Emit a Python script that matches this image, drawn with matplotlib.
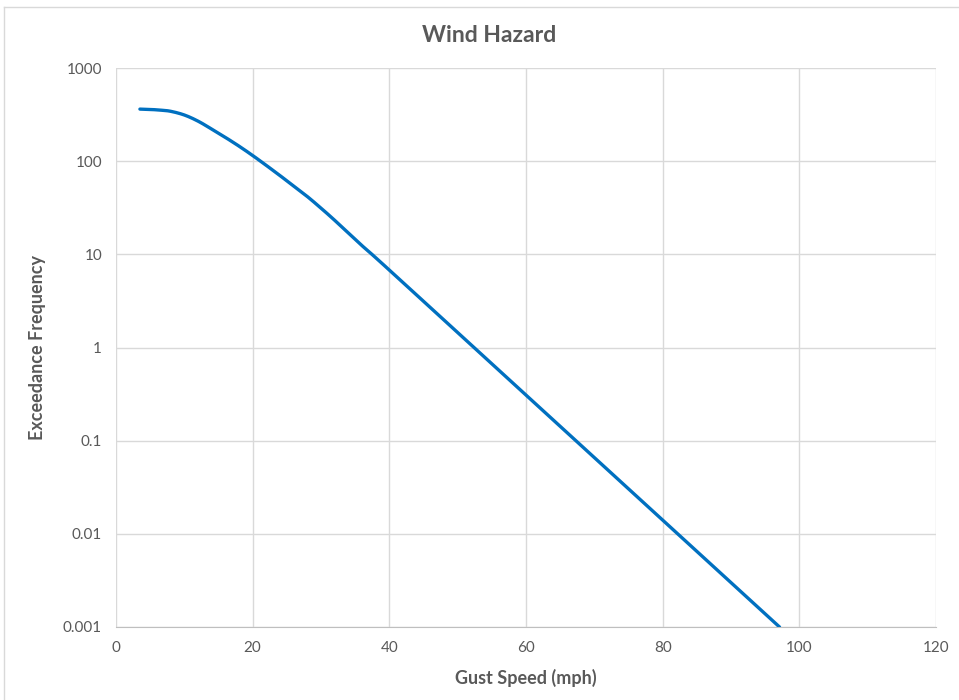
import matplotlib
matplotlib.use("Agg")
import matplotlib.pyplot as plt
from matplotlib.lines import Line2D
import numpy as np

# Data
gust_speed = [3.5, 5, 6.5, 8, 10, 12, 14, 16, 18, 20, 22, 24, 26, 28, 30, 32, 36, 40, 60, 80, 97.1]
exceedance = [362, 359, 353, 343, 313, 269, 221, 180, 145, 115, 90, 70, 54, 41.7, 31.3,
              23.2, 12.4, 6.78, 0.308, 0.014, 0.001]

x_ticks = [0, 20, 40, 60, 80, 100, 120]
y_ticks = [0.001, 0.01, 0.1, 1, 10, 100, 1000]
y_tick_labels = ["0.001", "0.01", "0.1", "1", "10", "100", "1000"]

plt.rcParams['font.family'] = ['Lato', 'DejaVu Sans']
text_color = "#595959"

fig = plt.figure(figsize=(9.59, 7.0), dpi=100)
ax = fig.add_axes([116/959, 1 - 627/700, (936 - 116)/959, (627 - 68)/700])

# smooth (Catmull-Rom) in log space
xs = np.array(gust_speed, dtype=float)
ly = np.log10(exceedance)
px, py = [], []
for i in range(len(xs) - 1):
    i0, i3 = max(i - 1, 0), min(i + 2, len(xs) - 1)
    p0, p1, p2, p3 = [np.array([xs[k], ly[k]]) for k in (i0, i, i + 1, i3)]
    t = np.linspace(0, 1, 30, endpoint=False)[:, None]
    seg = 0.5 * ((2 * p1) + (-p0 + p2) * t + (2 * p0 - 5 * p1 + 4 * p2 - p3) * t**2
                 + (-p0 + 3 * p1 - 3 * p2 + p3) * t**3)
    px.extend(seg[:, 0]); py.extend(seg[:, 1])
px.append(xs[-1]); py.append(ly[-1])
ax.plot(px, 10 ** np.array(py), color="#0070C0", lw=2.4, solid_capstyle="round", zorder=3)

ax.set_yscale("log")
ax.set_xlim(0, 120)
ax.set_ylim(0.001, 1000)
ax.set_xticks(x_ticks)
ax.set_yticks(y_ticks)
ax.set_yticklabels(y_tick_labels)
ax.minorticks_off()
ax.grid(True, color="#d9d9d9", lw=1)
ax.set_axisbelow(True)
for s in ["top", "right", "left"]:
    ax.spines[s].set_visible(False)
ax.spines["bottom"].set_color("#bfbfbf")
ax.tick_params(length=0, colors=text_color, labelsize=11, pad=10)

ax.set_xlabel("Gust Speed (mph)", fontsize=13, fontweight="bold", color=text_color, labelpad=10)
ax.set_ylabel("Exceedance Frequency", fontsize=13, fontweight="bold", color=text_color, labelpad=12)
fig.text(0.5 + 10/959, 1 - 35/700, "Wind Hazard", ha="center", va="center",
         fontsize=16.5, fontweight="bold", color=text_color)

# outer chart border
fig.add_artist(Line2D([4/959, 4/959], [0, 1 - 7/700], transform=fig.transFigure, color="#d9d9d9", lw=1))
fig.add_artist(Line2D([4/959, 1], [1 - 7/700, 1 - 7/700], transform=fig.transFigure, color="#d9d9d9", lw=1))

fig.savefig("out.png", dpi=100)
